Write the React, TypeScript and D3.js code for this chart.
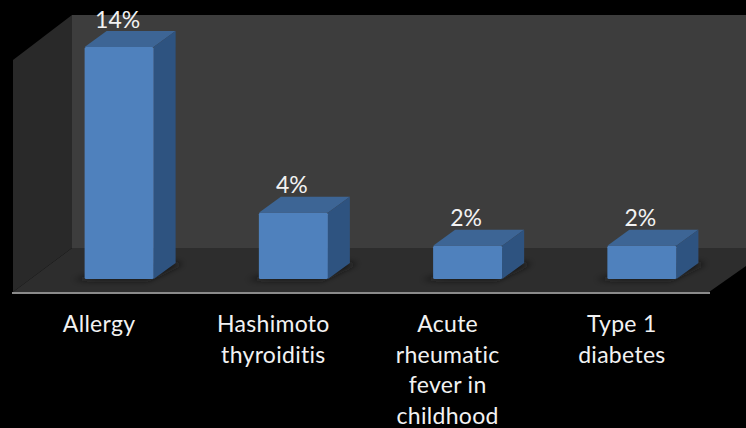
import React from 'react';
import * as d3 from 'd3';

const categories = ['Allergy', 'Hashimoto thyroiditis', 'Acute rheumatic fever in childhood', 'Type 1 diabetes'];
const values = [14, 4, 2, 2];
const categoryLines = [['Allergy'], ['Hashimoto', 'thyroiditis'], ['Acute', 'rheumatic', 'fever in', 'childhood'], ['Type 1', 'diabetes']];

const width = 746;
const height = 428;
const depthX = 22;
const depthY = -16;

const x = d3.scaleBand<string>()
  .domain(categories)
  .range([32, 729])
  .paddingInner(0.604)
  .paddingOuter(0.302);

const y = d3.scaleLinear().domain([0, 14]).range([279, 47]);

const poly = (pts: [number, number][]) => (d3.line()(pts) || '') + 'Z';

const textStyle = { fontVariantLigatures: 'none', letterSpacing: '0.3px' };

const App: React.FC = () => {
  return (
    <svg width={width} height={height} style={{ position: 'absolute', left: 0, top: 0, background: '#000' }}>
      <defs>
        <filter id="shadow" x="-30%" y="-100%" width="160%" height="300%">
          <feGaussianBlur stdDeviation="3" />
        </filter>
        <filter id="soft" x="-5%" y="-5%" width="110%" height="110%">
          <feGaussianBlur stdDeviation="0.45" />
        </filter>
      </defs>

      {/* walls and floor */}
      <path d={poly([[72, 15], [746, 15], [746, 248], [72, 248]])} fill="#3d3d3d" />
      <path d={poly([[13, 60], [72, 15], [72, 248], [13, 292]])} fill="#292929" />
      <path d={poly([[13, 292], [72, 248], [746, 248], [746, 266], [709, 292]])} fill="#2d2d2d" />
      <line x1={12} x2={710} y1={293} y2={293} stroke="#8a8a8a" strokeWidth={2} />

      {categories.map((c, i) => {
        const x0 = x(c) as number;
        const x1 = x0 + x.bandwidth();
        const top = y(values[i]);
        const base = y(0);
        const labelX = (x0 + x1) / 2 - 20;
        return (
          <g key={c}>
            <path
              d={poly([[x0 - 12, base + 1], [x1 - 6, base + 1], [x1 + depthX + 8, base + depthY], [x1, base + depthY]])}
              fill="#161616"
              filter="url(#shadow)"
            />
            <g filter="url(#soft)">
              <path d={poly([[x0, top], [x0 + depthX, top + depthY], [x1 + depthX, top + depthY], [x1, top]])} fill="#3c6595" />
              <path d={poly([[x1, top], [x1 + depthX, top + depthY], [x1 + depthX, base + depthY], [x1, base]])} fill="#2f5380" />
              <rect x={x0} y={top} width={x.bandwidth()} height={base - top} rx={1.5} fill="#4f81bd" />
            </g>
            <text
              x={(x0 + x1) / 2 - 1.5}
              y={top + depthY - 3.5}
              textAnchor="middle"
              fontFamily="Lato, 'Open Sans', sans-serif"
              fontSize={23}
              fill="#f2f2f2"
              style={{ fontVariantLigatures: 'none' }}
            >
              {values[i]}%
            </text>
            {categoryLines[i].map((t, j) => (
              <text
                key={t}
                x={labelX}
                y={332 + j * 30.7}
                textAnchor="middle"
                fontFamily="Lato, 'Open Sans', sans-serif"
                fontSize={23}
                fill="#f2f2f2"
                style={textStyle}
              >
                {t}
              </text>
            ))}
          </g>
        );
      })}
    </svg>
  );
};

export default App;
